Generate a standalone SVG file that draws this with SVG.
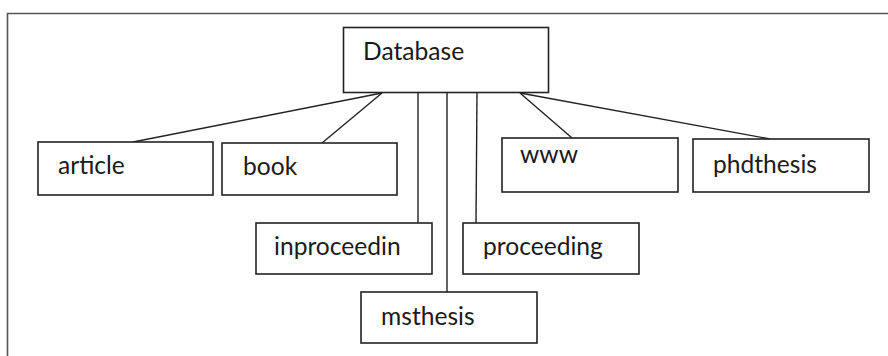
<svg xmlns="http://www.w3.org/2000/svg" width="888" height="356" viewBox="0 0 888 356">
<style>
.frame{fill:none;stroke:#555;stroke-width:1.6}
.box{fill:#fff;stroke:#222;stroke-width:1.6}
.lbl{font-family:Lato,"Open Sans","Liberation Sans",sans-serif;font-size:24.6px;fill:#1a1a1a}
.con{fill:none;stroke:#222;stroke-width:1.4}
</style>
<rect width="888" height="356" fill="#fff"/>
<path class="frame" d="M7.5,357 V13.5 H889"/>
<g id="connectors">
<line class="con" x1="382" y1="93" x2="133" y2="142"/>
<line class="con" x1="382" y1="93" x2="322" y2="143"/>
<line class="con" x1="418" y1="93" x2="418" y2="223"/>
<line class="con" x1="447" y1="93" x2="447" y2="292"/>
<line class="con" x1="477" y1="93" x2="476" y2="223"/>
<line class="con" x1="520" y1="93" x2="572" y2="138"/>
<line class="con" x1="520" y1="93" x2="770" y2="139"/>
</g>
<g id="database"><rect class="box" x="343.5" y="27.5" width="205" height="65"/><text class="lbl" x="363" y="60">Database</text></g>
<g id="article"><rect class="box" x="38" y="142" width="175" height="53"/><text class="lbl" x="58" y="174">article</text></g>
<g id="book"><rect class="box" x="222" y="143" width="175" height="52"/><text class="lbl" x="243" y="175">book</text></g>
<g id="inproceedin"><rect class="box" x="256" y="223" width="176" height="51"/><text class="lbl" x="274" y="255">inproceedin</text></g>
<g id="msthesis"><rect class="box" x="361" y="292" width="176" height="51"/><text class="lbl" x="381" y="325">msthesis</text></g>
<g id="proceeding"><rect class="box" x="463" y="223" width="176" height="51"/><text class="lbl" x="483" y="255">proceeding</text></g>
<g id="www"><rect class="box" x="502" y="138" width="176" height="54"/><text class="lbl" x="520" y="163">www</text></g>
<g id="phdthesis"><rect class="box" x="693" y="139" width="176" height="53"/><text class="lbl" x="713" y="173">phdthesis</text></g>
</svg>
